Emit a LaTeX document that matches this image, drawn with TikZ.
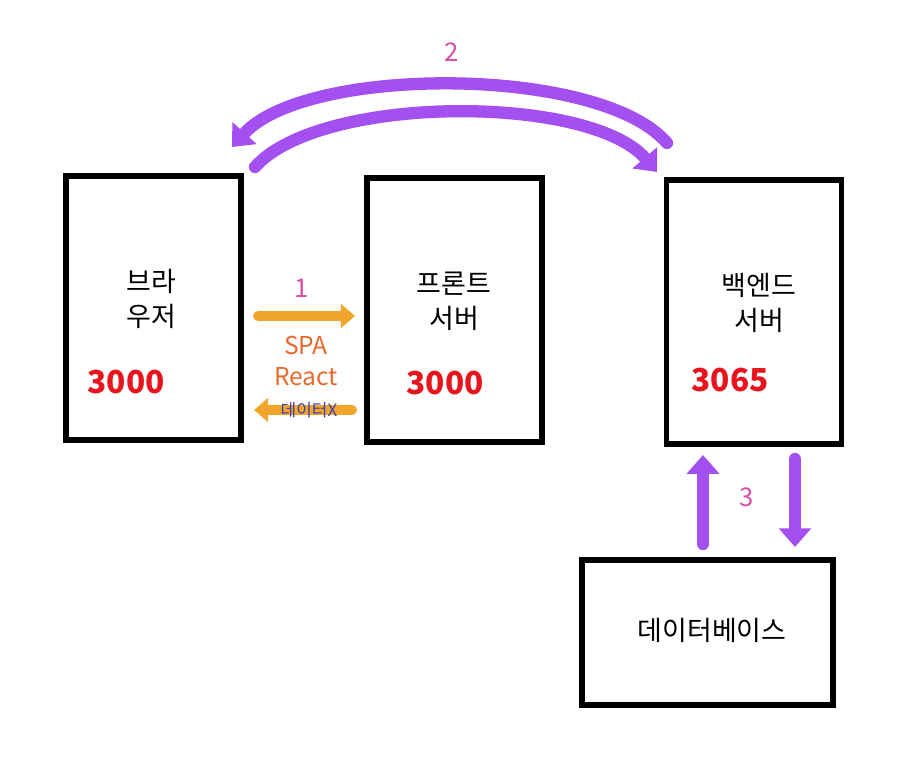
\documentclass[tikz,border=0pt]{standalone}
\usepackage{fontspec}
\setmainfont{Noto Sans CJK KR}
\usetikzlibrary{arrows.meta, calc}
\definecolor{arcpurple}{HTML}{A450F0}
\definecolor{arrorange}{HTML}{F2A52B}
\definecolor{stepmagenta}{HTML}{D64FA8}
\definecolor{spaorange}{HTML}{E86A2E}
\definecolor{portred}{HTML}{E8141E}
\definecolor{noteblue}{HTML}{3F3FB0}

\begin{document}
\begin{tikzpicture}[
  x=0.03cm, y=-0.03cm,
  box/.style={draw, line width=5pt, minimum width=5.25cm, minimum height=7.92cm, inner sep=0pt},
  lbl/.style={align=center, font=\fontsize{23}{30}\selectfont},
  port/.style={text=portred, font=\fontsize{27}{30}\selectfont\bfseries},
  stepno/.style={text=stepmagenta, font=\fontsize{22}{24}\selectfont},
  orarr/.style={arrorange, line width=8.5pt, line cap=round, -{Triangle[length=12pt, width=20pt]}},
  purarr/.style={arcpurple, line width=10.5pt, line cap=round, -{Triangle[length=16pt, width=27pt]}}
]
\useasboundingbox (0,0) rectangle (918,777);

\node[box] (browser) at (153.5,308) {};
\node[box] (front) at (454.5,310) {};
\node[box] (backend) at (754,312) {};
\node[box, minimum width=7.53cm, minimum height=4.35cm] (db) at (707.5,632.5) {};

\node[lbl] (browserLbl) at (151,299) {브라\\우저};
\node[lbl] (frontLbl) at (454,301) {프론트\\서버};
\node[lbl] (backendLbl) at (759,303) {백엔드\\서버};
\node[lbl] (dbLbl) at (712,630) {데이터베이스};

\node[port] (browserPort) at (126,382) {3000};
\node[port] (frontPort) at (445,383) {3000};
\node[port] (backendPort) at (730,380) {3065};

\node[stepno] (one) at (302,288) {1};
\node[stepno] (two) at (452,52) {2};
\node[stepno] (three) at (747,497) {3};

\node[text=spaorange, align=center, font=\fontsize{21}{26}\selectfont] (spa) at (306,361) {SPA\\React};

\coordinate (spaS) at (258,316);
\coordinate (spaE) at (355,316);
\coordinate (dataS) at (352,410);
\coordinate (dataE) at (254,410);
\draw[orarr] (spaS) -- (spaE);
\draw[orarr] (dataS) -- (dataE);
\node[text=noteblue, font=\fontsize{14.5}{16}\selectfont] (noData) at (309,410) {데이터X};

\coordinate (resS) at (667,143);
\coordinate (resE) at (232,147);
\coordinate (reqS) at (255,167);
\coordinate (reqE) at (657,172);
\draw[purarr] (resS) .. controls (600,65) and (306,65) .. (resE);
\draw[purarr] (reqS) .. controls (320,94) and (590,94) .. (reqE);

\coordinate (upS) at (703,544);
\coordinate (upE) at (703,455);
\coordinate (downS) at (795,459);
\coordinate (downE) at (795,547);
\draw[purarr] (upS) -- (upE);
\draw[purarr] (downS) -- (downE);
\end{tikzpicture}
\end{document}
